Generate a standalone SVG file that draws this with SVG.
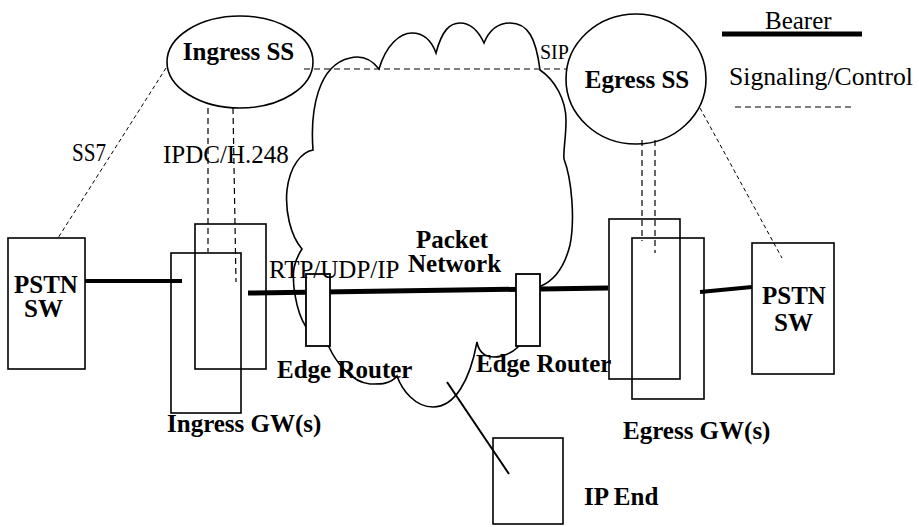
<svg xmlns="http://www.w3.org/2000/svg" width="919" height="527" viewBox="0 0 919 527">
<style>
.t{font-family:"Liberation Serif","Times New Roman",serif;font-size:25px;fill:#000}
.b{font-weight:bold}
.box{fill:none;stroke:#000;stroke-width:1.6}
.wbox{fill:#fff;stroke:#000;stroke-width:1.8}
.sig{fill:none;stroke:#000;stroke-width:1.2;stroke-dasharray:6 4}
.sigt{fill:none;stroke:#000;stroke-width:1;stroke-dasharray:4 3}
.bear{stroke:#000;stroke-linecap:butt}
</style>
<rect width="919" height="527" fill="#fff"/>
<g id="packet-network">
<path d="M313,150 C310,110 318,65 350,58 C362,55 372,60 379,69 C386,45 400,33 412,33 C425,33 432,42 436,53 C442,30 450,23 460,23 C470,23 478,30 484,43 C490,28 500,23 510,23 C528,23 536,38 540,70 C555,80 566,100 566,120 C566,140 563,150 564,159 C572,180 575,220 570,245 C565,265 555,280 541,286 L518,347 C510,355 495,360 485,355 C480,352 478,348 477,342 C470,380 455,407 433,407 C415,407 402,390 397,376 C390,385 378,384 370,384 C350,382 335,360 329,347 L306,327 C295,310 292,280 294,268 C296,258 300,252 302,249 C290,235 285,210 287,190 C290,165 302,152 313,150 Z" fill="none" stroke="#000" stroke-width="1.6"/>
<text class="t b" x="416" y="248">Packet</text>
<text class="t b" x="408" y="272">Network</text>
</g>
<g id="connectors">
<line class="bear" x1="85" y1="281" x2="182" y2="281" stroke-width="4"/>
<line class="bear" x1="248" y1="293" x2="608" y2="288" stroke-width="5"/>
<line class="bear" x1="700" y1="292" x2="752" y2="287" stroke-width="4"/>
<line x1="447" y1="382" x2="509" y2="474" stroke="#000" stroke-width="2"/>
<line class="sigt" x1="166" y1="68" x2="58" y2="238"/>
<line class="sig" x1="208" y1="108" x2="208" y2="252"/>
<line class="sig" x1="233" y1="108" x2="236" y2="282"/>
<line class="sig" x1="304" y1="69" x2="567" y2="69" stroke-width="1.5"/>
<line class="sig" x1="642" y1="140" x2="642" y2="241"/>
<line class="sig" x1="655" y1="140" x2="655" y2="253"/>
<line class="sigt" x1="700" y1="108" x2="782" y2="258"/>
<text class="t" x="72" y="161" textLength="34" lengthAdjust="spacingAndGlyphs">SS7</text>
<text class="t" x="163" y="163">IPDC/H.248</text>
<text class="t" x="540" y="59" style="font-size:20px">SIP</text>
</g>
<g id="ingress-ss">
<ellipse cx="240" cy="62" rx="73" ry="46" class="box"/>
<text class="t b" x="238.5" y="60" text-anchor="middle">Ingress SS</text>
</g>
<g id="egress-ss">
<ellipse cx="636" cy="79" rx="70" ry="65" class="box"/>
<text class="t b" x="637" y="88" text-anchor="middle">Egress SS</text>
</g>
<g id="pstn-sw-left">
<rect class="box" x="8" y="238" width="77" height="131"/>
<text class="t b" x="14" y="293">PSTN</text>
<text class="t b" x="24" y="317">SW</text>
</g>
<g id="ingress-gw">
<rect class="box" x="195" y="224" width="71" height="145"/>
<rect class="box" x="171" y="253" width="70" height="160"/>
<text class="t b" x="167" y="432">Ingress GW(s)</text>
</g>
<g id="edge-router-1">
<rect class="wbox" x="306" y="274" width="24" height="72"/>
<text class="t b" x="277" y="378">Edge  Router</text>
</g>
<g id="edge-router-2">
<rect class="wbox" x="516" y="274" width="24" height="72"/>
<text class="t b" x="476" y="372">Edge Router</text>
</g>
<text class="t" x="269" y="278">RTP/UDP/IP</text>
<g id="egress-gw">
<rect class="box" x="609" y="219" width="71" height="160"/>
<rect class="box" x="632" y="238" width="72" height="161"/>
<text class="t b" x="623" y="439">Egress GW(s)</text>
</g>
<g id="pstn-sw-right">
<rect class="box" x="752" y="243" width="82" height="131"/>
<text class="t b" x="762" y="304">PSTN</text>
<text class="t b" x="774" y="331">SW</text>
</g>
<g id="ip-end">
<rect class="box" x="493" y="438" width="70" height="86"/>
<text class="t b" x="584" y="505">IP End</text>
</g>
<g id="legend">
<text class="t" x="765" y="29">Bearer</text>
<line class="bear" x1="722" y1="34" x2="862" y2="34" stroke-width="5"/>
<text class="t" x="729" y="85" textLength="184" lengthAdjust="spacingAndGlyphs">Signaling/Control</text>
<line class="sig" x1="735" y1="107" x2="852" y2="107" stroke-width="1"/>
</g>
</svg>
